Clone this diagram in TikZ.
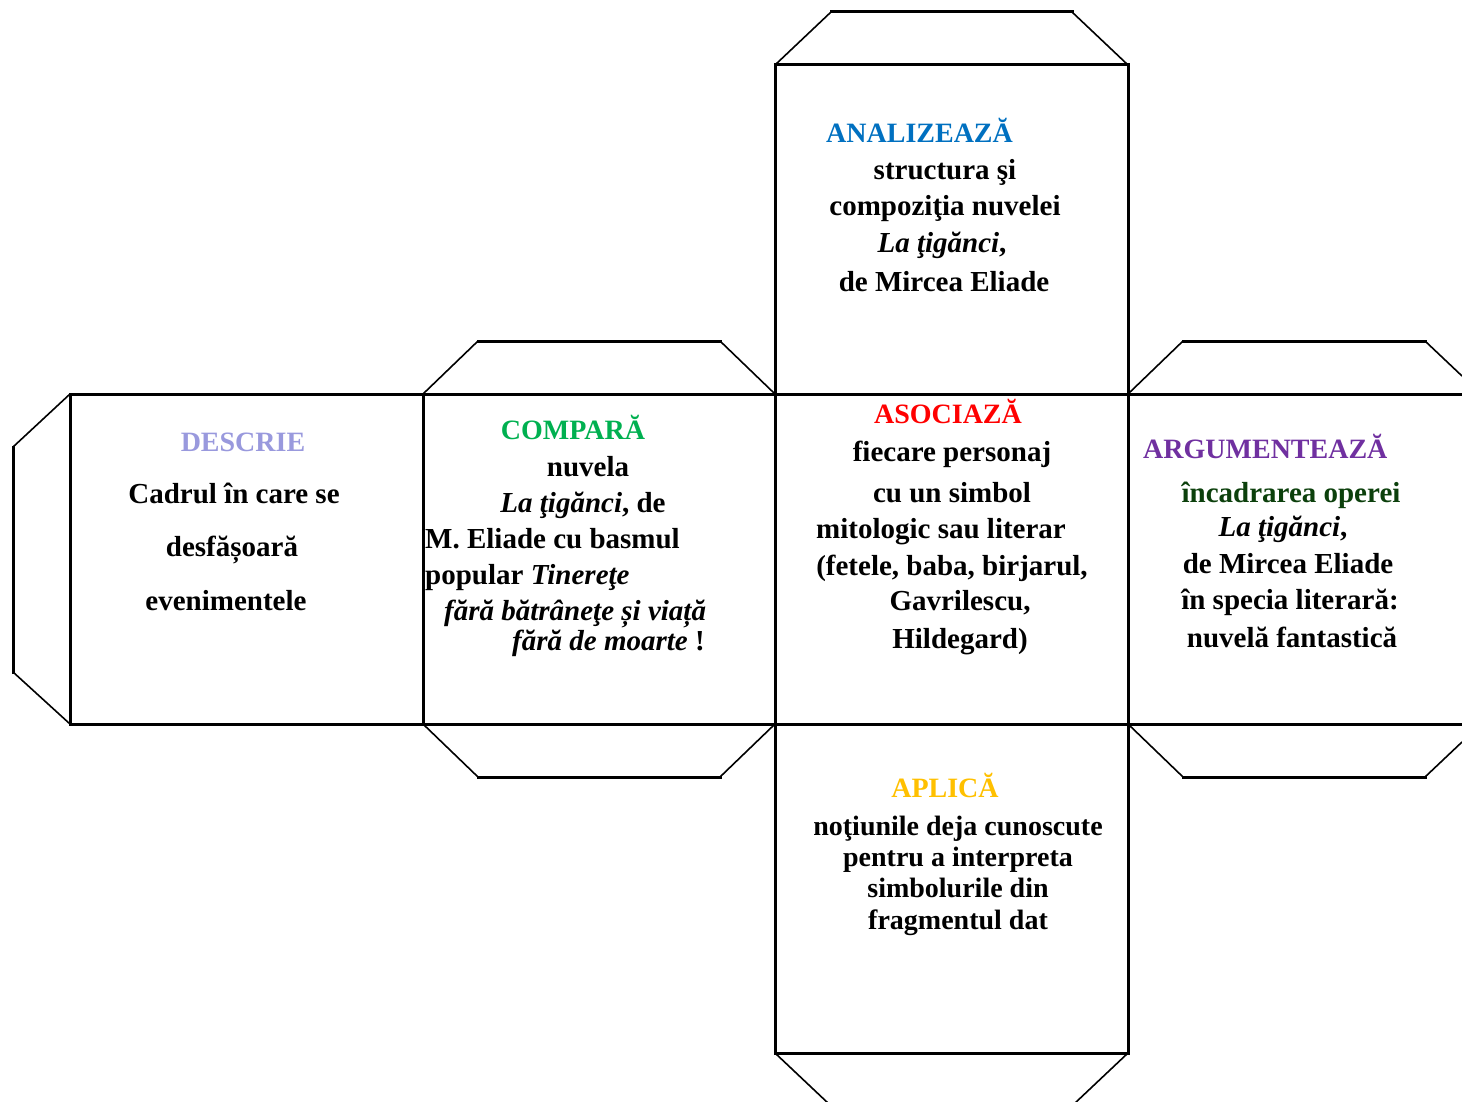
\documentclass[tikz,border=0pt]{standalone}
\usepackage{fontspec}
\setmainfont{Liberation Serif}
\definecolor{cdes}{RGB}{153,153,221}
\definecolor{ccmp}{RGB}{0,176,80}
\definecolor{cana}{RGB}{0,112,192}
\definecolor{caso}{RGB}{255,0,0}
\definecolor{carg}{RGB}{112,48,160}
\definecolor{capl}{RGB}{255,192,0}
\definecolor{cinc}{RGB}{12,64,12}
\begin{document}
\begin{tikzpicture}[x=1pt,y=-1pt,
  edge/.style={line width=3pt,line cap=rect},
  flap/.style={line width=1.6pt},
  head/.style={anchor=base,inner sep=0pt,font=\fontsize{28}{30}\selectfont\bfseries},
  body/.style={anchor=base,inner sep=0pt,font=\fontsize{29}{32}\selectfont\bfseries},
  bodys/.style={body,font=\fontsize{28}{32}\selectfont\bfseries},
  bodyl/.style={body,anchor=base west}]
\useasboundingbox (0,0) rectangle (1462,1102);
% main faces
\draw[edge] (70,394) -- (1462,394);
\draw[edge] (70,724) -- (1462,724);
\draw[edge] (70,394) -- (70,724);
\draw[edge] (423,394) -- (423,724);
\draw[edge] (775,65) -- (775,1053);
\draw[edge] (1128,65) -- (1128,1053);
\draw[edge] (775,65) -- (1128,65);
\draw[edge] (775,1053) -- (1128,1053);
% flaps: top of top box
\draw[flap] (775,65) -- (831,12);
\draw[flap] (1128,65) -- (1072,12);
\draw[edge] (831,12) -- (1072,12);
% left flap
\draw[flap] (70,394) -- (13,447);
\draw[flap] (70,724) -- (13,672);
\draw[edge] (13,447) -- (13,672);
% compara flaps
\draw[flap] (423,394) -- (478,341);
\draw[flap] (775,394) -- (720,341);
\draw[edge] (478,341) -- (720,341);
\draw[flap] (423,724) -- (478,777);
\draw[flap] (775,724) -- (720,777);
\draw[edge] (478,777) -- (720,777);
% right box flaps
\draw[flap] (1128,394) -- (1183,341);
\draw[flap] (1425,341) -- (1462,376);
\draw[edge] (1183,341) -- (1425,341);
\draw[flap] (1128,724) -- (1183,777);
\draw[flap] (1425,777) -- (1462,742);
\draw[edge] (1183,777) -- (1425,777);
% bottom flap
\draw[flap] (775,1053) -- (829,1104);
\draw[flap] (1128,1053) -- (1074,1104);

% DESCRIE
\node[head,text=cdes] (d0) at (243,451) {DESCRIE};
\node[body] (d1) at (234,503) {Cadrul în care se};
\node[body] (d2) at (232,556) {desfășoară};
\node[body] (d3) at (226,610) {evenimentele};
% COMPARA
\node[head,text=ccmp] (c0) at (573,439) {COMPARĂ};
\node[body] (c1) at (588,476) {nuvela};
\node[body] (c2) at (583,512) {\textit{La ţigănci}, de};
\node[bodyl] (c3) at (425,548) {M. Eliade cu basmul};
\node[bodyl] (c4) at (425,584) {popular \textit{Tinereţe}};
\node[bodyl] (c5) at (444,620) {\textit{fără bătrâneţe și viață}};
\node[bodyl] (c6) at (512,650) {\textit{fără de moarte} !};
% ANALIZEAZA
\node[head,text=cana,anchor=base west] (a0) at (826,143) {ANALIZEAZĂ};
\node[body] (a1) at (945,180) {structura şi};
\node[body] (a2) at (945,216) {compoziţia nuvelei};
\node[body] (a3) at (942,253) {\textit{La ţigănci},};
\node[body] (a4) at (944,291) {de Mircea Eliade};
% ASOCIAZA
\node[head,text=caso] (s0) at (948,423) {ASOCIAZĂ};
\node[body] (s1) at (952,461) {fiecare personaj};
\node[body] (s2) at (952,502) {cu un simbol};
\node[body] (s3) at (941,538) {mitologic sau literar};
\node[body] (s4) at (952,575) {(fetele, baba, birjarul,};
\node[body] (s5) at (960,610) {Gavrilescu,};
\node[body] (s6) at (960,648) {Hildegard)};
% ARGUMENTEAZA
\node[head,text=carg,anchor=base west] (g0) at (1143,458) {ARGUMENTEAZĂ};
\node[body,text=cinc] (g1) at (1291,502) {încadrarea operei};
\node[body] (g2) at (1283,536) {\textit{La ţigănci},};
\node[body] (g3) at (1288,573) {de Mircea Eliade};
\node[body] (g4) at (1290,609) {în specia literară:};
\node[body] (g5) at (1292,647) {nuvelă fantastică};
% APLICA
\node[head,text=capl] (p0) at (945,797) {APLICĂ};
\node[bodys] (p1) at (958,835) {noţiunile deja cunoscute};
\node[bodys] (p2) at (958,866) {pentru a interpreta};
\node[bodys] (p3) at (958,897) {simbolurile din};
\node[bodys] (p4) at (958,929) {fragmentul dat};
\end{tikzpicture}
\end{document}
